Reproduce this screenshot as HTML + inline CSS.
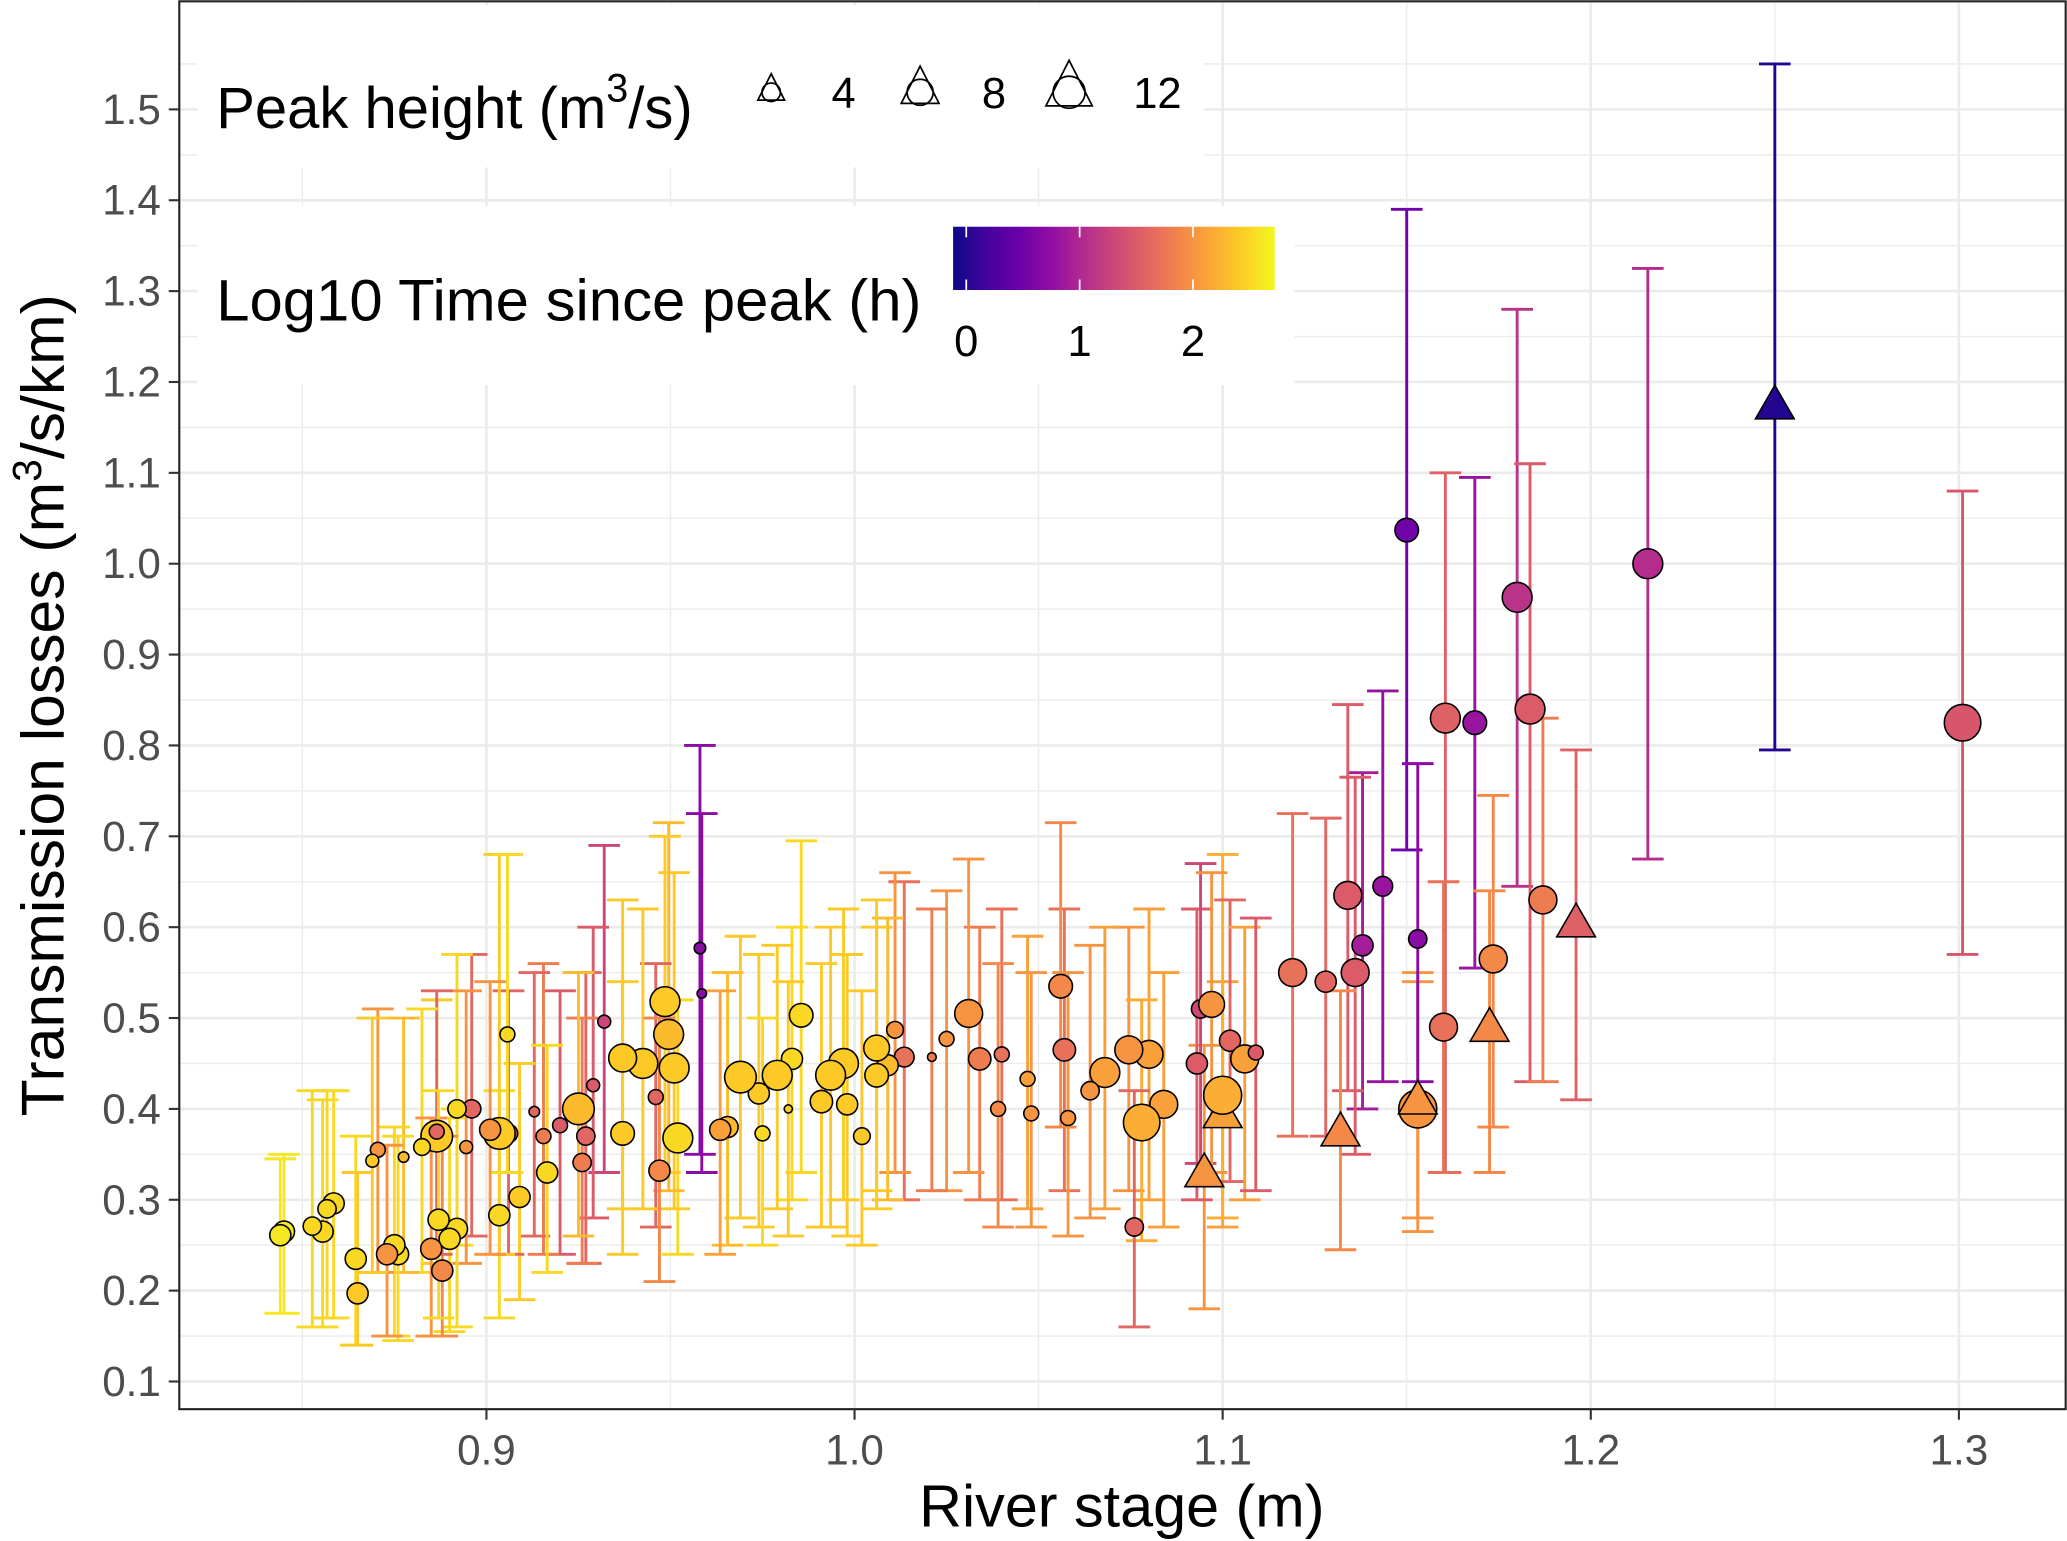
<!DOCTYPE html>
<html><head><meta charset="utf-8"><style>
html,body{margin:0;padding:0;background:#fff;}
svg{display:block;font-family:"Liberation Sans",Arial,sans-serif;}
</style></head><body>
<svg id="chart" width="2067" height="1541" viewBox="0 0 1568 1169" xmlns="http://www.w3.org/2000/svg">
<defs>
<linearGradient id="plasma" x1="0" x2="1" y1="0" y2="0">
<stop offset="0" stop-color="#0d0887"/><stop offset="0.1" stop-color="#41049d"/><stop offset="0.2" stop-color="#6a00a8"/><stop offset="0.3" stop-color="#8f0da4"/><stop offset="0.4" stop-color="#b12a90"/><stop offset="0.5" stop-color="#cc4778"/><stop offset="0.6" stop-color="#e16462"/><stop offset="0.7" stop-color="#f2844b"/><stop offset="0.8" stop-color="#fca636"/><stop offset="0.9" stop-color="#fcce25"/><stop offset="1" stop-color="#f0f921"/>
</linearGradient>
</defs>
<g id="grid"></g>
<g id="bars"></g>
<g id="pts"></g>
<rect x="136" y="1" width="1431" height="1068" fill="none" stroke="#222" stroke-width="1.6"/>
<g id="axes"></g>
<text x="851" y="1158" font-size="45" text-anchor="middle" fill="#000">River stage (m)</text>
<text transform="translate(48,535) rotate(-90)" font-size="46" text-anchor="middle" fill="#000">Transmission losses (m<tspan dy="-17" font-size="31">3</tspan><tspan dy="17">/s/km)</tspan></text>
<g>
<rect x="150" y="4" width="763" height="123" fill="#fff"/>
<text x="164" y="97" font-size="44" fill="#000">Peak height (m<tspan dy="-20" font-size="30">3</tspan><tspan dy="20">/s)</tspan></text>
<g id="sizekeys"></g>
</g>
<g>
<rect x="150" y="156" width="832" height="136" fill="#fff"/>
<text x="164" y="243" font-size="44" fill="#000" textLength="535" lengthAdjust="spacingAndGlyphs">Log10 Time since peak (h)</text>
<rect x="723" y="172" width="244" height="48" fill="url(#plasma)"/>
<g id="cbticks"></g>
</g>
</svg>
<script>
const xs=[1.25,1.301,1.2155,1.18,1.15,1.1835,1.1685,1.1605,1.196,1.187,1.1735,1.1725,1.16,1.153,1.153,1.153,1.1435,1.138,1.134,1.136,1.128,1.119,1.132,1.095,1.10,1.10,1.102,1.106,1.093,1.109,1.094,1.097,1.084,1.08,1.0745,1.078,1.068,1.064,1.076,1.057,1.056,1.058,1.047,1.048,1.04,1.034,1.039,1.031,1.025,1.021,1.0135,1.011,1.009,1.006,1.006,0.997,0.9935,0.998,1.002,0.991,0.9855,0.983,0.982,0.979,0.974,0.975,0.969,0.9655,0.9635,0.958,0.9585,0.952,0.951,0.9495,0.9485,0.946,0.9425,0.937,0.937,0.947,0.932,0.929,0.927,0.926,0.925,0.92,0.9155,0.913,0.9165,0.909,0.9035,0.906,0.9035,0.901,0.9057,0.896,0.892,0.8945,0.892,0.89,0.888,0.8865,0.8865,0.8825,0.885,0.887,0.8775,0.876,0.875,0.873,0.8705,0.869,0.8645,0.865,0.8585,0.8567,0.8555,0.8527,0.845,0.844];
const ys=[1.175,0.825,1.0,0.963,1.037,0.84,0.825,0.83,0.605,0.63,0.565,0.49,0.49,0.40,0.41,0.587,0.645,0.58,0.635,0.55,0.54,0.55,0.375,0.33,0.395,0.415,0.475,0.455,0.45,0.462,0.51,0.515,0.405,0.46,0.465,0.385,0.44,0.42,0.27,0.465,0.535,0.39,0.433,0.395,0.46,0.455,0.40,0.505,0.477,0.457,0.457,0.487,0.448,0.467,0.437,0.45,0.437,0.405,0.37,0.408,0.503,0.455,0.40,0.437,0.417,0.373,0.435,0.38,0.377,0.577,0.527,0.368,0.445,0.482,0.518,0.413,0.45,0.456,0.373,0.332,0.496,0.426,0.37,0.341,0.40,0.382,0.37,0.397,0.33,0.303,0.283,0.373,0.373,0.377,0.482,0.40,0.40,0.358,0.268,0.257,0.222,0.37,0.375,0.358,0.246,0.278,0.347,0.24,0.25,0.24,0.355,0.343,0.235,0.197,0.296,0.29,0.265,0.271,0.265,0.261];
const los=[0.795,0.57,0.675,0.645,0.685,0.43,0.555,0.33,0.41,0.43,0.38,0.33,0.33,0.265,0.28,0.43,0.43,0.40,0.42,0.35,0.37,0.37,0.245,0.18,0.27,0.28,0.32,0.30,0.30,0.31,0.34,0.33,0.27,0.30,0.31,0.255,0.29,0.28,0.16,0.31,0.38,0.26,0.29,0.27,0.30,0.30,0.27,0.33,0.31,0.31,0.30,0.33,0.30,0.31,0.29,0.30,0.27,0.26,0.25,0.27,0.33,0.30,0.26,0.29,0.27,0.25,0.28,0.25,0.24,0.35,0.33,0.24,0.29,0.31,0.33,0.27,0.29,0.29,0.24,0.21,0.33,0.28,0.23,0.23,0.26,0.24,0.24,0.26,0.22,0.19,0.17,0.24,0.24,0.24,0.33,0.26,0.25,0.23,0.16,0.155,0.15,0.23,0.24,0.22,0.15,0.17,0.22,0.145,0.15,0.15,0.22,0.22,0.14,0.14,0.17,0.17,0.16,0.16,0.175,0.175];
const his=[1.55,1.08,1.325,1.28,1.39,1.11,1.095,1.10,0.795,0.83,0.745,0.64,0.65,0.54,0.55,0.78,0.86,0.77,0.845,0.765,0.72,0.725,0.53,0.47,0.54,0.68,0.63,0.6,0.62,0.61,0.67,0.66,0.55,0.62,0.6,0.52,0.6,0.58,0.42,0.62,0.715,0.55,0.59,0.55,0.62,0.60,0.56,0.675,0.64,0.62,0.65,0.66,0.61,0.63,0.6,0.62,0.6,0.57,0.53,0.56,0.695,0.60,0.54,0.58,0.57,0.5,0.59,0.55,0.53,0.80,0.725,0.52,0.66,0.715,0.70,0.56,0.62,0.63,0.54,0.5,0.69,0.6,0.55,0.5,0.55,0.53,0.56,0.55,0.47,0.45,0.42,0.53,0.68,0.54,0.68,0.57,0.57,0.53,0.4,0.39,0.37,0.52,0.53,0.51,0.39,0.42,0.5,0.37,0.38,0.36,0.51,0.5,0.37,0.33,0.42,0.42,0.41,0.42,0.35,0.345];
const ts=[0.0,1.45,1.05,1.1,0.5,1.5,0.8,1.55,1.55,1.8,1.9,1.9,1.7,2.0,2.0,0.7,0.8,0.9,1.5,1.5,1.6,1.7,1.9,2.0,2.1,2.2,1.6,2.1,1.5,1.5,1.3,2.0,2.1,2.1,2.0,2.2,2.1,2.0,1.6,1.7,1.9,2.0,2.1,2.0,1.7,1.8,1.9,2.0,2.0,1.8,1.7,2.0,2.3,2.4,2.4,2.4,2.4,2.4,2.4,2.4,2.5,2.5,2.4,2.4,2.4,2.5,2.4,2.3,2.1,0.7,0.7,2.5,2.4,2.3,2.4,1.6,2.4,2.4,2.4,1.9,1.3,1.5,1.6,1.8,2.3,1.5,1.8,1.6,2.5,2.4,2.5,1.6,2.4,2.0,2.5,1.6,2.5,2.0,2.5,2.5,1.9,2.4,1.6,2.5,2.0,2.5,2.3,2.5,2.5,2.0,2.0,2.4,2.5,2.4,2.5,2.5,2.5,2.5,2.6,2.6];
const peaks=[8,12,8,8,5,8,5,8,8,7,7,8,7,13,8,3,3.5,4,7,7,4,7,8,8,8,13,4,7,4,2,3,6,7,7,7,12,8,3,3,4.5,5,2,2,2,2,4.5,2,7,2,0.7,3.5,2.5,4,6,5,8,8,4,2.5,4.5,5,4,0.6,8,4,2,9,4,4,1.2,0.8,8,8,8,8,2,8,7,5,4,1.5,1.5,3,3,9,2,2,1,4,4,4,3,9,4,2,3,3,1.5,4,4,4,9,2,2.5,4,4,1,4,4,4,2,1.5,4,4,4,3,4,3,4,4];
const shapes=['tri','c','c','c','c','c','c','c','tri','c','c','tri','c','c','tri','c','c','c','c','c','c','c','tri','tri','tri','c','c','c','c','c','c','c','c','c','c','c','c','c','c','c','c','c','c','c','c','c','c','c','c','c','c','c','c','c','c','c','c','c','c','c','c','c','c','c','c','c','c','c','c','c','c','c','c','c','c','c','c','c','c','c','c','c','c','c','c','c','c','c','c','c','c','c','c','c','c','c','c','c','c','c','c','c','c','c','c','c','c','c','c','c','c','c','c','c','c','c','c','c','c','c'];
const xTicks=[0.9,1.0,1.1,1.2,1.3];
const xTickLabels=['0.9','1.0','1.1','1.2','1.3'];
const yTicks=[0.1,0.2,0.3,0.4,0.5,0.6,0.7,0.8,0.9,1.0,1.1,1.2,1.3,1.4,1.5];
const yTickLabels=['0.1','0.2','0.3','0.4','0.5','0.6','0.7','0.8','0.9','1.0','1.1','1.2','1.3','1.4','1.5'];
const sizeKeys=[4,8,12];
const cbTicks=[0,1,2];

const NS='http://www.w3.org/2000/svg';
const X=v=>369+(v-0.9)*2792.5;
const Y=v=>1048-(v-0.1)*689.3;
const R=p=>4*Math.sqrt(p);
const stops=['#0d0887','#41049d','#6a00a8','#8f0da4','#b12a90','#cc4778','#e16462','#f2844b','#fca636','#fcce25','#f0f921'];
function hex(c){return [1,3,5].map(i=>parseInt(c.substr(i,2),16));}
function col(t){let u=(t+0.12)/2.84;u=Math.max(0,Math.min(1,u))*10;const i=Math.min(9,Math.floor(u)),f=u-i;const a=hex(stops[i]),b=hex(stops[i+1]);return 'rgb('+a.map((v,k)=>Math.round(v+(b[k]-v)*f)).join(',')+')';}
function mk(tag,attrs,parent){const e=document.createElementNS(NS,tag);for(const k in attrs)e.setAttribute(k,attrs[k]);parent.appendChild(e);return e;}
const grid=document.getElementById('grid'),bars=document.getElementById('bars'),pts=document.getElementById('pts'),axes=document.getElementById('axes');
for(let v=0.85;v<=1.301;v+=0.05){const major=Math.abs(Math.round(v*10)-v*10)<1e-6;const l=mk('line',{x1:X(v),x2:X(v),y1:1,y2:1069,stroke:'#ebebeb','stroke-width':major?2:1},grid);

}
for(let v=0.1;v<=1.551;v+=0.05){const major=Math.abs(Math.round(v*10)-v*10)<1e-6;const l=mk('line',{x1:136,x2:1567,y1:Y(v),y2:Y(v),stroke:'#ebebeb','stroke-width':major?2:1},grid);

}
xTicks.forEach((v,i)=>{const l=mk('line',{x1:X(v),x2:X(v),y1:1069,y2:1077,stroke:'#333','stroke-width':1.6},axes);


const t=mk('text',{x:X(v),y:1111,'font-size':32,'text-anchor':'middle',fill:'#4d4d4d'},axes);t.textContent=xTickLabels[i];

});
yTicks.forEach((v,i)=>{const l=mk('line',{x1:128,x2:136,y1:Y(v),y2:Y(v),stroke:'#333','stroke-width':1.6},axes);


const t=mk('text',{x:122,y:Y(v)+11,'font-size':32,'text-anchor':'end',fill:'#4d4d4d'},axes);t.textContent=yTickLabels[i];

});
xs.forEach((x,i)=>{const c=col(ts[i]),cx=X(x),w=12;const g=mk('g',{stroke:c,'stroke-width':2.2,fill:'none'},bars);


mk('line',{x1:cx,x2:cx,y1:Y(his[i]),y2:Y(los[i])},g);mk('line',{x1:cx-w,x2:cx+w,y1:Y(his[i]),y2:Y(his[i])},g);mk('line',{x1:cx-w,x2:cx+w,y1:Y(los[i]),y2:Y(los[i])},g);});
xs.forEach((x,i)=>{const c=col(ts[i]),cx=X(x),cy=Y(ys[i]),r=R(peaks[i]);let e;
if(shapes[i]==='tri'){e=mk('polygon',{points:[cx,cy-1.3*r,cx-1.3*r,cy+0.95*r,cx+1.3*r,cy+0.95*r].join(' '),fill:c,stroke:'#000','stroke-width':1.2},pts);}
else{e=mk('circle',{cx:cx,cy:cy,r:r,fill:c,stroke:'#000','stroke-width':1.2},pts);}

});
const sk=document.getElementById('sizekeys');const kx=[585,698,811],lx=[640,754,878];
sizeKeys.forEach((p,i)=>{const r=3.5*Math.sqrt(p),cx=kx[i],cy=70;const g=mk('g',{fill:'none',stroke:'#000','stroke-width':1.3},sk);


mk('circle',{cx:cx,cy:cy,r:r},g);mk('polygon',{points:[cx,cy-2*r,cx-1.45*r,cy+0.85*r,cx+1.45*r,cy+0.85*r].join(' ')},g);
const t=mk('text',{x:lx[i],y:82,'font-size':33,'text-anchor':'middle',fill:'#000',stroke:'none'},sk);t.textContent=String(p);

});
const cb=document.getElementById('cbticks');
cbTicks.forEach(v=>{const x=733+86*v;mk('line',{x1:x,x2:x,y1:172,y2:180,stroke:'#fff','stroke-width':1.3},cb);mk('line',{x1:x,x2:x,y1:212,y2:220,stroke:'#fff','stroke-width':1.3},cb);
const t=mk('text',{x:x,y:270,'font-size':33,'text-anchor':'middle',fill:'#000'},cb);t.textContent=String(v);

});
</script>
</body></html>
